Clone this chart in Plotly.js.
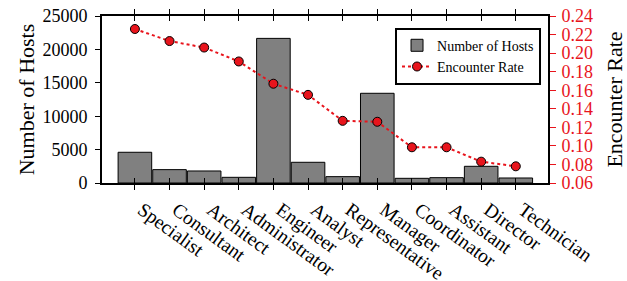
<!DOCTYPE html>
<html>
<head>
<meta charset="utf-8">
<script src="https://cdn.plot.ly/plotly-3.0.1.min.js"></script>
<style>html,body{margin:0;padding:0;background:#fff}#chart{width:627px;height:281px}</style>
</head>
<body>
<div id="chart"></div>
<script>
const categories = ["Specialist","Consultant","Architect","Administrator","Engineer","Analyst","Representative","Manager","Coordinator","Assistant","Director","Technician"];
const hosts = [4600, 2000, 1800, 850, 21650, 3100, 950, 13430, 700, 800, 2500, 750];
const rate = [0.226, 0.213, 0.206, 0.191, 0.167, 0.155, 0.127, 0.126, 0.0985, 0.0985, 0.083, 0.078];
const hostTicks = [0, 5000, 10000, 15000, 20000, 25000];
const hostTickText = ["0", "5000", "10000", "15000", "20000", "25000"];
const rateTicks = [0.06, 0.08, 0.10, 0.12, 0.14, 0.16, 0.18, 0.20, 0.22, 0.24];
const rateTickText = ["0.06", "0.08", "0.10", "0.12", "0.14", "0.16", "0.18", "0.20", "0.22", "0.24"];

const FONT = '"Liberation Serif", "Times New Roman", serif';
const idx = categories.map((c, i) => i);

const data = [
  {type: 'bar', x: idx, y: hosts, name: 'Number of Hosts',
   marker: {color: '#808080', line: {color: '#000', width: 1}}, hoverinfo: 'skip'},
  {type: 'scatter', mode: 'lines+markers', x: idx, y: rate, yaxis: 'y2', name: 'Encounter Rate',
   line: {color: '#e8141c', dash: 'dot', width: 2},
   marker: {color: '#e8141c', size: 9, line: {color: '#000', width: 1}}, hoverinfo: 'skip'},
  {type: 'scatter', mode: 'none', x: idx, y: hosts, xaxis: 'x2', showlegend: false, hoverinfo: 'skip'}
];

const xr = [-0.95, 11.93];
const layout = {
  width: 627, height: 281,
  margin: {l: 102, r: 79, t: 16, b: 98},
  paper_bgcolor: '#fff', plot_bgcolor: '#fff',
  font: {family: FONT, size: 18, color: '#000'},
  bargap: 0.03,
  showlegend: true,
  legend: {x: 0.657, y: 0.93, xanchor: 'left', yanchor: 'top',
           bordercolor: '#000', borderwidth: 2, bgcolor: '#fff',
           font: {family: FONT, size: 14}, tracegroupgap: 0},
  xaxis: {range: xr, tickmode: 'array', tickvals: idx, ticktext: categories,
          tickangle: 36, ticks: 'outside', ticklen: 5, tickwidth: 1, tickcolor: '#000',
          showline: true, linecolor: '#000', linewidth: 2, mirror: 'ticks',
          showgrid: false, zeroline: false, automargin: false,
          ticklabelshift: 7, ticklabelstandoff: 1,
          tickfont: {family: FONT, size: 19.5}},
  xaxis2: {range: xr, overlaying: 'x', tickmode: 'array', tickvals: idx, ticktext: categories,
          ticks: 'inside', ticklen: 5, tickwidth: 1, tickcolor: '#000', showticklabels: false,
          showline: false, mirror: 'ticks', showgrid: false, zeroline: false},
  yaxis: {range: [0, 25000], tickmode: 'array', tickvals: hostTicks, ticktext: hostTickText,
          ticks: 'outside', ticklen: 5, tickwidth: 1, tickcolor: '#000',
          showline: true, linecolor: '#000', linewidth: 2, automargin: false,
          ticklabelstandoff: 4,
          showgrid: false, zeroline: false, tickfont: {family: FONT, size: 18},
          title: {text: 'Number of Hosts', font: {family: FONT, size: 22}, standoff: 2}},
  yaxis2: {range: [0.06, 0.24], overlaying: 'y', side: 'right', tickmode: 'array',
          tickvals: rateTicks, ticktext: rateTickText,
          ticks: 'outside', ticklen: 6, tickwidth: 1, tickcolor: '#e8141c',
          showline: true, linecolor: '#000', linewidth: 2, automargin: false,
          ticklabelstandoff: 2,
          showgrid: false, zeroline: false, tickfont: {family: FONT, size: 18, color: '#e8141c'},
          title: {text: 'Encounter Rate', font: {family: FONT, size: 22}, standoff: 17}}
};

Plotly.newPlot('chart', data, layout, {displayModeBar: false, staticPlot: true});
</script>
</body>
</html>
